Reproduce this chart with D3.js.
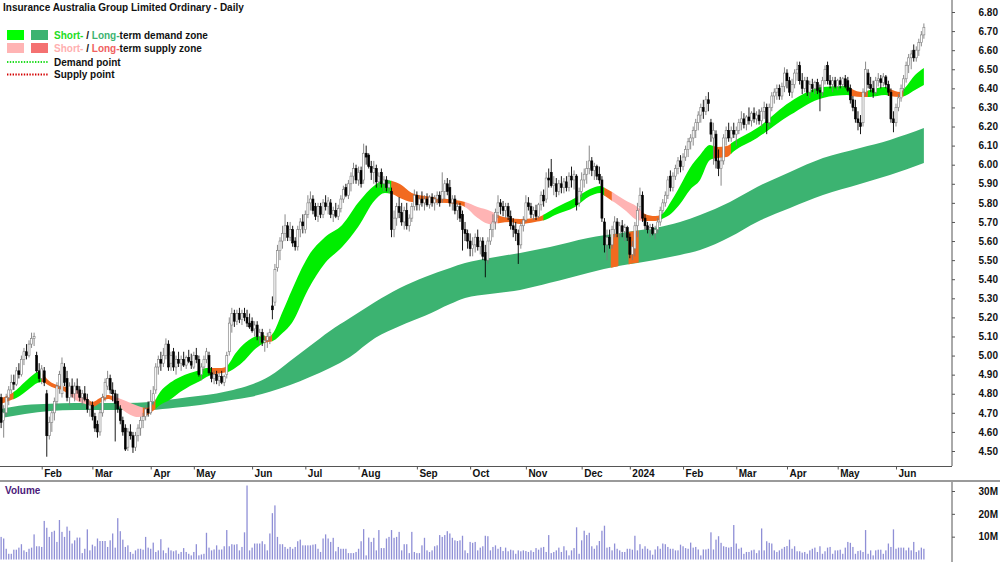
<!DOCTYPE html>
<html><head><meta charset="utf-8">
<script src="https://cdn.jsdelivr.net/npm/d3@7"></script>
<style>
html,body{margin:0;padding:0;background:#fff;}
svg{display:block;}
text{font-family:"Liberation Sans",Arial,sans-serif;font-weight:bold;font-size:10px;}
</style>
</head><body>
<svg id="chart" width="1000" height="562"></svg>
<script>
const title = "Insurance Australia Group Limited Ordinary - Daily";
const monthLabels = ["Feb","Mar","Apr","May","Jun","Jul","Aug","Sep","Oct","Nov","Dec","2024","Feb","Mar","Apr","May","Jun"];
const monthBarIndex = [16,36,59,76,99,120,141,164,185,207,229,248,269,290,310,330,353];
const priceTicks = [4.5,4.6,4.7,4.8,4.9,5.0,5.1,5.2,5.3,5.4,5.5,5.6,5.7,5.8,5.9,6.0,6.1,6.2,6.3,6.4,6.5,6.6,6.7,6.8];
const volumeTicks = [10,20,30];

// daily bars: [open, high, low, close]
const ohlc = [
[4.78,4.80,4.62,4.65],[4.66,4.74,4.57,4.70],[4.70,4.80,4.68,4.78],[4.78,4.84,4.74,4.82],[4.82,4.90,4.80,4.86],[4.86,4.90,4.82,4.85],[4.85,4.94,4.84,4.92],[4.92,4.96,4.88,4.90],[4.90,5.00,4.89,4.98],[4.98,5.04,4.95,5.02],
[5.02,5.06,4.98,5.00],[5.00,5.08,4.99,5.06],[5.06,5.12,5.04,5.09],[5.09,5.12,5.05,5.10],[5.00,5.02,4.91,4.92],[4.92,4.96,4.86,4.88],[4.88,4.95,4.85,4.93],[4.92,4.94,4.84,4.86],[4.80,4.82,4.47,4.58],[4.58,4.68,4.56,4.65],
[4.65,4.72,4.60,4.70],[4.70,4.78,4.66,4.76],[4.76,4.86,4.74,4.84],[4.84,4.92,4.80,4.90],[4.80,4.99,4.78,4.96],[4.94,4.96,4.84,4.86],[4.88,4.92,4.76,4.78],[4.78,4.86,4.74,4.84],[4.84,4.88,4.78,4.80],[4.80,4.86,4.76,4.84],
[4.84,4.88,4.80,4.82],[4.82,4.84,4.76,4.78],[4.78,4.82,4.74,4.80],[4.80,4.84,4.76,4.77],[4.77,4.80,4.70,4.72],[4.72,4.76,4.68,4.74],[4.74,4.76,4.66,4.68],[4.68,4.70,4.60,4.62],[4.64,4.66,4.57,4.60],[4.60,4.72,4.58,4.70],
[4.70,4.80,4.68,4.78],[4.78,4.88,4.76,4.86],[4.84,4.92,4.82,4.88],[4.88,4.90,4.80,4.82],[4.82,4.86,4.76,4.80],[4.80,4.82,4.55,4.75],[4.76,4.80,4.70,4.72],[4.72,4.74,4.64,4.66],[4.66,4.68,4.58,4.60],[4.62,4.64,4.50,4.51],
[4.52,4.62,4.50,4.60],[4.60,4.64,4.56,4.58],[4.58,4.60,4.49,4.52],[4.52,4.60,4.50,4.58],[4.58,4.64,4.55,4.62],[4.62,4.68,4.58,4.66],[4.66,4.70,4.62,4.68],[4.68,4.74,4.66,4.72],[4.72,4.76,4.68,4.70],[4.70,4.82,4.69,4.76],
[4.76,4.84,4.74,4.80],[4.82,4.96,4.80,4.94],[4.94,5.00,4.90,4.98],[4.98,5.02,4.92,4.96],[4.96,5.04,4.94,5.00],[5.00,5.09,4.98,5.06],[5.06,5.08,4.92,4.94],[4.96,5.02,4.92,5.00],[5.02,5.04,4.92,4.94],[4.94,5.00,4.90,4.98],
[4.98,5.02,4.94,4.96],[4.96,5.00,4.92,4.98],[4.98,5.02,4.94,4.95],[4.95,5.00,4.93,4.99],[4.99,5.03,4.96,4.97],[4.97,5.01,4.93,4.95],[4.94,5.02,4.93,5.00],[5.00,5.04,4.96,4.98],[4.98,5.00,4.89,4.90],[4.90,4.96,4.87,4.94],
[4.94,5.00,4.92,4.98],[4.98,5.04,4.96,5.02],[5.00,5.02,4.90,4.91],[4.91,4.94,4.86,4.88],[4.88,4.92,4.85,4.90],[4.90,4.92,4.85,4.87],[4.87,4.91,4.84,4.89],[4.89,4.92,4.85,4.86],[4.86,4.90,4.84,4.89],[4.90,5.02,4.88,5.00],
[5.02,5.20,5.00,5.17],[5.16,5.25,5.12,5.22],[5.22,5.24,5.15,5.18],[5.18,5.24,5.16,5.22],[5.22,5.25,5.17,5.19],[5.19,5.24,5.16,5.22],[5.22,5.25,5.18,5.20],[5.20,5.24,5.15,5.17],[5.17,5.22,5.14,5.15],[5.18,5.20,5.12,5.13],
[5.14,5.18,5.10,5.16],[5.16,5.18,5.08,5.10],[5.10,5.14,5.06,5.12],[5.12,5.14,5.05,5.07],[5.07,5.10,5.02,5.08],[5.08,5.12,5.04,5.10],[5.10,5.14,5.06,5.12],[5.26,5.31,5.19,5.24],[5.28,5.48,5.26,5.45],[5.46,5.58,5.44,5.55],
[5.55,5.62,5.50,5.60],[5.60,5.68,5.56,5.64],[5.64,5.74,5.60,5.68],[5.68,5.70,5.60,5.62],[5.62,5.70,5.60,5.66],[5.66,5.68,5.57,5.59],[5.60,5.62,5.55,5.57],[5.57,5.68,5.55,5.66],[5.66,5.72,5.62,5.70],[5.70,5.74,5.64,5.68],
[5.66,5.76,5.64,5.74],[5.74,5.84,5.72,5.80],[5.80,5.86,5.76,5.82],[5.82,5.84,5.74,5.76],[5.78,5.80,5.71,5.73],[5.73,5.80,5.70,5.78],[5.78,5.80,5.72,5.74],[5.74,5.82,5.72,5.80],[5.80,5.84,5.76,5.78],[5.78,5.83,5.74,5.81],
[5.80,5.82,5.72,5.74],[5.74,5.78,5.70,5.76],[5.76,5.80,5.72,5.73],[5.73,5.79,5.71,5.77],[5.77,5.84,5.75,5.82],[5.82,5.89,5.80,5.87],[5.88,5.90,5.83,5.84],[5.84,5.92,5.82,5.90],[5.90,5.96,5.86,5.94],[5.94,6.01,5.90,5.98],
[5.98,6.00,5.90,5.92],[5.92,5.99,5.89,5.96],[5.97,5.99,5.88,5.90],[5.92,6.11,5.90,6.06],[6.06,6.10,6.00,6.04],[6.05,6.06,5.98,5.99],[5.99,6.02,5.92,5.96],[5.96,6.02,5.90,5.98],[5.98,6.00,5.88,5.91],[5.91,5.96,5.88,5.94],
[5.96,5.98,5.88,5.90],[5.90,5.94,5.86,5.92],[5.92,5.94,5.86,5.88],[5.88,5.92,5.85,5.90],[5.86,5.88,5.62,5.66],[5.66,5.76,5.62,5.72],[5.72,5.80,5.68,5.78],[5.78,5.83,5.72,5.75],[5.75,5.80,5.68,5.70],[5.70,5.78,5.66,5.76],
[5.76,5.80,5.66,5.68],[5.68,5.74,5.65,5.72],[5.72,5.80,5.70,5.78],[5.78,5.87,5.76,5.84],[5.84,5.86,5.76,5.79],[5.79,5.84,5.76,5.82],[5.82,5.86,5.78,5.80],[5.80,5.84,5.76,5.82],[5.82,5.85,5.78,5.79],[5.79,5.84,5.77,5.83],
[5.83,5.85,5.78,5.80],[5.80,5.84,5.76,5.82],[5.82,5.86,5.79,5.84],[5.84,5.86,5.78,5.80],[5.82,5.96,5.80,5.86],[5.86,5.92,5.82,5.90],[5.90,5.93,5.84,5.86],[5.88,5.92,5.78,5.80],[5.80,5.84,5.76,5.82],[5.82,5.84,5.74,5.76],
[5.76,5.80,5.71,5.78],[5.78,5.80,5.70,5.72],[5.74,5.76,5.55,5.66],[5.66,5.70,5.60,5.64],[5.64,5.66,5.56,5.60],[5.60,5.64,5.52,5.56],[5.56,5.62,5.52,5.58],[5.58,5.64,5.54,5.62],[5.62,5.66,5.55,5.57],[5.57,5.62,5.53,5.60],
[5.60,5.62,5.50,5.52],[5.54,5.58,5.41,5.50],[5.50,5.62,5.48,5.60],[5.60,5.69,5.58,5.66],[5.66,5.74,5.62,5.70],[5.70,5.77,5.66,5.75],[5.75,5.84,5.72,5.80],[5.80,5.82,5.74,5.78],[5.78,5.81,5.73,5.76],[5.76,5.80,5.72,5.78],
[5.78,5.80,5.71,5.73],[5.73,5.76,5.66,5.68],[5.68,5.72,5.62,5.66],[5.66,5.70,5.60,5.64],[5.64,5.66,5.48,5.58],[5.58,5.70,5.56,5.68],[5.68,5.73,5.65,5.71],[5.71,5.84,5.70,5.80],[5.80,5.83,5.76,5.78],[5.78,5.80,5.72,5.74],
[5.74,5.78,5.71,5.76],[5.76,5.79,5.71,5.73],[5.73,5.80,5.72,5.79],[5.79,5.86,5.76,5.84],[5.84,5.87,5.78,5.81],[5.82,5.96,5.80,5.93],[5.93,5.98,5.88,5.92],[5.96,6.03,5.88,5.89],[5.89,5.94,5.84,5.90],[5.90,5.93,5.83,5.86],
[5.86,5.92,5.84,5.90],[5.90,5.94,5.85,5.88],[5.88,5.93,5.85,5.91],[5.91,5.94,5.86,5.88],[5.88,5.96,5.86,5.94],[5.94,5.99,5.88,5.92],[5.92,5.97,5.87,5.95],[5.94,5.95,5.76,5.79],[5.80,5.88,5.78,5.86],[5.86,5.96,5.83,5.92],
[5.92,5.98,5.88,5.95],[5.95,6.02,5.90,5.98],[5.98,6.10,5.95,6.02],[6.02,6.04,5.94,5.97],[5.97,6.01,5.92,5.99],[5.99,6.00,5.92,5.94],[5.95,5.99,5.90,5.92],[5.92,5.94,5.70,5.72],[5.70,5.72,5.54,5.58],[5.58,5.66,5.50,5.62],
[5.62,5.66,5.56,5.58],[5.58,5.68,5.56,5.66],[5.66,5.73,5.62,5.70],[5.70,5.72,5.62,5.64],[5.64,5.70,5.61,5.68],[5.68,5.71,5.62,5.65],[5.65,5.69,5.60,5.67],[5.67,5.68,5.60,5.62],[5.62,5.64,5.51,5.53],[5.53,5.60,5.50,5.57],
[5.56,5.70,5.52,5.68],[5.68,5.80,5.62,5.76],[5.78,5.88,5.76,5.84],[5.84,5.86,5.70,5.72],[5.72,5.74,5.66,5.68],[5.68,5.70,5.64,5.66],[5.66,5.69,5.62,5.67],[5.67,5.69,5.63,5.64],[5.64,5.68,5.61,5.66],[5.66,5.72,5.64,5.70],
[5.70,5.78,5.68,5.76],[5.76,5.82,5.74,5.80],[5.80,5.86,5.78,5.84],[5.84,5.94,5.82,5.92],[5.94,5.97,5.86,5.88],[5.88,5.96,5.86,5.94],[5.94,6.00,5.92,5.98],[5.98,6.04,5.95,6.02],[6.02,6.05,5.96,5.99],[5.99,6.06,5.97,6.04],
[6.04,6.10,6.02,6.08],[6.08,6.14,6.04,6.12],[6.12,6.16,6.08,6.14],[6.14,6.20,6.10,6.18],[6.18,6.24,6.14,6.22],[6.22,6.28,6.18,6.26],[6.26,6.32,6.22,6.30],[6.30,6.34,6.24,6.28],[6.28,6.36,6.26,6.34],[6.34,6.38,6.28,6.32],
[6.22,6.24,6.12,6.16],[6.14,6.22,6.00,6.18],[6.16,6.18,5.98,6.02],[6.02,6.08,5.94,5.98],[5.98,6.04,5.89,6.02],[6.02,6.16,6.00,6.14],[6.14,6.20,6.10,6.18],[6.18,6.22,6.12,6.14],[6.14,6.20,6.12,6.18],[6.18,6.22,6.14,6.16],
[6.16,6.20,6.10,6.18],[6.18,6.24,6.16,6.22],[6.22,6.28,6.18,6.24],[6.24,6.27,6.19,6.21],[6.21,6.26,6.18,6.25],[6.25,6.30,6.21,6.23],[6.23,6.28,6.20,6.27],[6.27,6.30,6.22,6.24],[6.24,6.28,6.21,6.26],[6.26,6.29,6.21,6.23],
[6.23,6.30,6.20,6.28],[6.28,6.33,6.24,6.30],[6.30,6.32,6.16,6.22],[6.22,6.32,6.20,6.30],[6.30,6.38,6.28,6.36],[6.36,6.40,6.32,6.38],[6.38,6.42,6.34,6.40],[6.40,6.42,6.34,6.36],[6.36,6.43,6.34,6.41],[6.41,6.51,6.38,6.48],
[6.48,6.50,6.40,6.44],[6.44,6.46,6.36,6.38],[6.38,6.45,6.35,6.42],[6.42,6.50,6.40,6.48],[6.48,6.54,6.44,6.50],[6.52,6.54,6.42,6.44],[6.44,6.48,6.37,6.40],[6.40,6.46,6.38,6.44],[6.44,6.46,6.36,6.38],[6.38,6.44,6.35,6.42],
[6.42,6.45,6.38,6.40],[6.40,6.44,6.37,6.43],[6.43,6.45,6.37,6.39],[6.39,6.42,6.28,6.38],[6.38,6.46,6.36,6.44],[6.44,6.52,6.42,6.50],[6.52,6.54,6.42,6.44],[6.44,6.47,6.40,6.42],[6.42,6.46,6.38,6.44],[6.44,6.46,6.40,6.41],
[6.41,6.45,6.39,6.44],[6.44,6.46,6.40,6.42],[6.42,6.46,6.40,6.45],[6.45,6.47,6.40,6.41],[6.44,6.46,6.38,6.39],[6.40,6.42,6.32,6.34],[6.34,6.36,6.28,6.30],[6.30,6.34,6.22,6.24],[6.24,6.28,6.18,6.22],[6.22,6.26,6.16,6.20],
[6.22,6.40,6.20,6.38],[6.38,6.54,6.36,6.50],[6.48,6.50,6.40,6.42],[6.42,6.46,6.38,6.40],[6.40,6.44,6.35,6.38],[6.38,6.46,6.37,6.44],[6.44,6.48,6.41,6.45],[6.45,6.47,6.40,6.43],[6.43,6.48,6.41,6.46],[6.46,6.47,6.40,6.42],
[6.42,6.44,6.36,6.38],[6.38,6.40,6.22,6.24],[6.24,6.28,6.17,6.22],[6.22,6.32,6.20,6.30],[6.30,6.37,6.28,6.35],[6.35,6.42,6.33,6.40],[6.40,6.47,6.38,6.45],[6.45,6.54,6.43,6.52],[6.52,6.58,6.48,6.56],[6.56,6.60,6.50,6.58],
[6.60,6.63,6.54,6.56],[6.56,6.62,6.54,6.60],[6.60,6.66,6.57,6.64],[6.64,6.70,6.62,6.68],[6.68,6.74,6.66,6.72]
];

// daily volume, millions
const volume = [
9.9,9.2,4.7,2.5,2.5,4.3,4.3,5.2,6.7,4.0,
3.3,4.7,5.2,11.0,5.8,5.8,5.5,16.9,13.9,9.9,
12.1,12.6,7.7,17.3,12.1,9.9,14.4,12.6,7.0,8.4,
9.6,9.6,2.8,4.7,13.2,4.0,6.5,5.8,9.2,8.1,
8.1,8.1,5.5,8.4,11.4,5.2,18.1,12.4,8.7,5.5,
6.2,3.3,2.5,4.0,4.7,4.7,4.3,9.9,5.2,4.7,
7.4,3.3,4.0,8.9,4.0,2.8,5.2,4.0,3.6,4.0,
2.5,3.3,5.0,3.3,2.5,1.8,3.3,6.7,1.8,2.2,
2.5,11.7,5.2,4.0,4.4,6.2,4.3,4.4,5.8,12.9,
5.8,6.7,6.5,6.7,4.0,5.5,11.9,32.4,4.0,5.2,
7.0,7.0,7.0,8.0,6.7,4.0,11.4,20.3,23.7,9.9,
6.7,6.7,5.5,4.7,5.5,4.7,5.5,8.0,8.7,6.2,
6.2,6.2,6.2,6.5,6.7,4.7,3.3,9.2,11.0,9.2,
7.7,9.5,3.6,5.5,4.7,4.7,4.7,2.8,2.8,2.8,
3.3,4.7,8.0,13.3,1.8,9.6,7.7,9.5,4.0,12.9,
5.0,5.0,9.2,9.9,12.9,9.5,9.9,12.1,4.0,6.7,
6.7,2.8,12.1,3.3,2.8,2.8,6.2,9.5,4.0,3.3,
4.0,5.8,6.2,10.7,9.9,10.7,12.4,11.4,9.5,8.4,
8.1,8.4,10.4,4.0,2.8,7.7,7.3,7.7,4.0,5.2,
5.8,10.4,10.2,4.0,5.5,6.2,
4.7,5.5,3.7,5.2,3.6,4.3,4.0,2.5,4.0,3.6,
4.0,3.7,3.3,4.0,3.3,5.0,4.3,5.2,5.5,3.3,
10.7,2.8,3.3,4.0,5.2,3.3,5.8,4.0,1.8,4.0,
5.0,14.1,2.5,8.4,12.6,10.7,11.7,5.8,4.7,6.2,
8.1,12.6,14.8,5.2,5.5,4.0,7.0,4.7,4.0,3.3,
3.3,4.7,4.7,4.3,10.4,4.0,6.7,4.7,5.8,4.7,
4.0,2.1,4.4,5.8,4.7,7.0,6.7,5.5,4.7,4.7,
4.0,4.0,6.5,5.8,5.0,4.7,7.4,5.2,5.5,4.4,
1.8,4.4,4.4,4.7,11.9,4.4,8.7,10.2,7.3,5.8,
5.5,5.2,5.5,15.1,7.0,4.7,5.2,2.5,3.3,3.3,
4.0,4.3,2.8,4.0,13.6,4.0,8.0,7.3,7.0,4.0,
3.3,4.0,4.7,5.5,5.9,8.7,4.7,5.8,3.6,3.6,
3.0,3.3,2.5,4.0,4.7,5.2,3.3,5.8,2.5,3.6,
5.2,5.5,2.5,4.0,4.0,4.3,2.5,5.2,7.7,7.3,
5.5,2.5,3.7,4.0,3.3,12.9,2.5,4.0,1.8,4.0,
4.3,4.3,2.5,4.0,7.0,5.5,13.2,4.7,5.2,5.2,
5.2,4.0,5.2,4.0,7.7,3.3,4.0,5.2,4.7
];

// short-term zone edges (bar position, upper price, lower price)
const shortBandIdx = [0,3,6,9,12.5,14.5,16.5,18.5,21,24,27,30,33,36,39,42,45,48,51,54,57,59.5,62.7,66.6,70.6,74.5,78.5,81,84.4,87,89.5,92.3,96.2,99,103,105.3,107.3,111,114.7,121,127.8,134.5,140.8,147.5,151.4,154.2,157.3,162,167.2,173,179,183,188,193,196.8,200.7,204.7,210.6,214.5,218.5,226.4,232.3,236.3,238.2,242.2,246,251,254,258,260.7,264.6,267.8,271.7,275.7,279.6,282.4,286.3,288.7,298.2,311.2,324.2,333.7,335.6,339.6,342.7,348.7,350.6,354.6,356.5,360.5,364];
const shortBandTop = [4.778,4.794,4.820,4.857,4.898,4.914,4.904,4.872,4.851,4.841,4.830,4.820,4.789,4.757,4.778,4.794,4.783,4.768,4.752,4.736,4.726,4.741,4.809,4.857,4.888,4.909,4.925,4.935,4.935,4.935,4.951,5.009,5.066,5.092,5.108,5.097,5.118,5.229,5.344,5.517,5.621,5.684,5.800,5.894,5.920,5.915,5.899,5.852,5.836,5.826,5.815,5.805,5.779,5.758,5.731,5.721,5.716,5.721,5.742,5.773,5.826,5.873,5.889,5.878,5.847,5.815,5.779,5.742,5.731,5.742,5.815,5.889,5.983,6.051,6.103,6.093,6.098,6.119,6.192,6.329,6.407,6.412,6.397,6.381,6.391,6.407,6.397,6.381,6.402,6.470,6.507];
const shortBandBot = [4.747,4.762,4.778,4.804,4.841,4.857,4.862,4.846,4.830,4.820,4.794,4.762,4.747,4.731,4.752,4.773,4.757,4.715,4.689,4.678,4.684,4.705,4.741,4.768,4.809,4.841,4.867,4.888,4.904,4.909,4.914,4.935,4.977,5.019,5.061,5.071,5.077,5.118,5.171,5.344,5.485,5.569,5.674,5.815,5.852,5.847,5.826,5.805,5.800,5.800,5.794,5.779,5.721,5.689,5.695,5.700,5.689,5.700,5.710,5.737,5.779,5.836,5.852,5.836,5.800,5.763,5.710,5.705,5.705,5.716,5.747,5.794,5.868,5.920,6.025,6.035,6.040,6.067,6.140,6.260,6.350,6.365,6.360,6.355,6.355,6.365,6.360,6.355,6.360,6.391,6.418];
// colour state of the short-term zone over bar ranges: g demand, p supply, o turning
const shortBandRuns = [[0,5,"o"],[5,16,"g"],[16,26,"o"],[26,35,"p"],[35,44,"o"],[44,56,"p"],[56,61,"o"],[61,83,"g"],[83,89,"o"],[89,104,"g"],[104,107,"o"],[107,154,"g"],[154,183,"o"],[183,196,"p"],[196,214,"o"],[214,238,"g"],[238,241,"o"],[241,253,"p"],[253,260,"o"],[260,281,"g"],[281,288,"o"],[288,335,"g"],[335,342,"o"],[342,350,"g"],[350,356,"o"],[356,364,"g"]];

// long-term zone edges
const longBandIdx = [0,9.4,19.3,29.1,39,48.9,58.7,68.6,78.5,91.5,98.2,106,114,121.8,129.7,137.6,147.5,157.3,167.2,177.1,183,192.8,204.7,216.5,231.5,244.1,257.9,267.8,275.7,287.5,298.2,311.2,324.2,338.8,350.6,364];
const longBandTop = [4.720,4.741,4.747,4.752,4.752,4.752,4.757,4.773,4.789,4.820,4.846,4.893,4.972,5.050,5.129,5.197,5.281,5.354,5.412,5.459,5.485,5.511,5.538,5.569,5.616,5.642,5.669,5.700,5.737,5.805,5.883,5.962,6.035,6.088,6.130,6.192];
const longBandBot = [4.673,4.694,4.710,4.715,4.715,4.715,4.715,4.726,4.741,4.768,4.783,4.810,4.846,4.888,4.935,4.993,5.092,5.155,5.208,5.270,5.302,5.323,5.344,5.381,5.433,5.470,5.501,5.527,5.553,5.621,5.700,5.773,5.841,5.899,5.946,6.009];
const longSupplyRuns = [[240.5,243.5],[247.5,251.5]];

const colors = {g:"#00ee00", p:"#ffb4b4", o:"#f26a1f", longDemand:"#3cb371", longSupply:"#f26a1f"};

const svg = d3.select("#chart");
const W = 1000, H = 562;
const axisX = 952;

const x = d3.scaleLinear().domain([0, 364]).range([1.14, 1.14 + 364 * 2.535]);
const y = d3.scaleLinear().domain([4.5, 6.8]).range([451, 12]);
const yv = d3.scaleLinear().domain([0, 30]).range([559.5, 491]);

const defs = svg.append("defs");
defs.append("clipPath").attr("id","plotClip").append("rect").attr("x",0).attr("y",0).attr("width",axisX).attr("height",466);

const plot = svg.append("g").attr("clip-path","url(#plotClip)");

// long-term zone
const longData = longBandIdx.map((d,i)=>({i:d, t:longBandTop[i], b:longBandBot[i]}));
const longArea = d3.area().x(d=>x(d.i)).y0(d=>y(d.b)).y1(d=>y(d.t)).curve(d3.curveMonotoneX);
plot.append("path").datum(longData).attr("d", longArea).attr("fill", colors.longDemand);
longSupplyRuns.forEach((r,k)=>{
  const id = "ls"+k;
  defs.append("clipPath").attr("id",id).append("rect")
    .attr("x", x(r[0])).attr("width", x(r[1]) - x(r[0])).attr("y",0).attr("height",H);
  plot.append("path").datum(longData).attr("d", longArea).attr("fill", colors.longSupply).attr("clip-path","url(#"+id+")");
});

// short-term zone
const shortData = shortBandIdx.map((d,i)=>({i:d, t:shortBandTop[i], b:shortBandBot[i]}));
const shortArea = d3.area().x(d=>x(d.i)).y0(d=>y(d.b)).y1(d=>y(d.t)).curve(d3.curveMonotoneX);
shortBandRuns.forEach((r,k)=>{
  const id = "sr"+k;
  const x0 = x(r[0]) - (k===0?2:0.3), x1 = x(r[1]) + (k===shortBandRuns.length-1?2:0.3);
  defs.append("clipPath").attr("id",id).append("rect")
    .attr("x", x0).attr("width", x1 - x0).attr("y",0).attr("height",H);
  plot.append("path").datum(shortData).attr("d", shortArea).attr("fill", colors[r[2]]).attr("clip-path","url(#"+id+")");
});

// candles
const candles = plot.append("g");
ohlc.forEach((d,i)=>{
  const [o,h,l,c] = d;
  const up = c >= o;
  const cx = x(i);
  const col = up ? "#7c7c7c" : "#000";
  candles.append("line").attr("x1",cx).attr("x2",cx).attr("y1",y(h)).attr("y2",y(l))
    .attr("stroke",col).attr("stroke-width",0.9);
  const top = y(Math.max(o,c)), bot = y(Math.min(o,c));
  candles.append("rect").attr("x",cx-1).attr("width",2)
    .attr("y",top).attr("height",Math.max(0.8, bot-top))
    .attr("fill", up ? "#fff" : "#000").attr("stroke",col).attr("stroke-width",0.6);
});

// volume bars
const vol = svg.append("g");
volume.forEach((v,i)=>{
  vol.append("rect").attr("x", x(i)-0.65).attr("width",1.3)
    .attr("y", yv(v)).attr("height", yv(0)-yv(v)).attr("fill","#8f8fd6");
});

// axes lines
svg.append("line").attr("x1",axisX).attr("x2",axisX).attr("y1",0).attr("y2",466).attr("stroke","#555").attr("stroke-width",1);
svg.append("line").attr("x1",axisX).attr("x2",axisX).attr("y1",481).attr("y2",H).attr("stroke","#555").attr("stroke-width",1);
svg.append("line").attr("x1",0).attr("x2",axisX).attr("y1",466.5).attr("y2",466.5).attr("stroke","#555").attr("stroke-width",1);
svg.append("line").attr("x1",0).attr("x2",W).attr("y1",481).attr("y2",481).attr("stroke","#9a9a9a").attr("stroke-width",2);

// price axis
const pa = svg.append("g").attr("transform","translate("+axisX+",0)")
  .call(d3.axisRight(y).tickValues(priceTicks).tickFormat(d3.format(".2f")).tickSize(3));
pa.select(".domain").remove();
pa.selectAll(".tick line").attr("stroke","#555");
pa.selectAll(".tick text").attr("x",46).attr("text-anchor","end")
  .style("font-family",'"Liberation Sans",Arial,sans-serif').style("font-weight","bold").style("font-size","10px").attr("fill","#111");

// volume axis
const va = svg.append("g").attr("transform","translate("+axisX+",0)")
  .call(d3.axisRight(yv).tickValues(volumeTicks).tickFormat(d=>d+"M").tickSize(3));
va.select(".domain").remove();
va.selectAll(".tick line").attr("stroke","#555");
va.selectAll(".tick text").attr("x",46).attr("text-anchor","end")
  .style("font-family",'"Liberation Sans",Arial,sans-serif').style("font-weight","bold").style("font-size","10px").attr("fill","#111");

// month axis
const ma = svg.append("g").attr("transform","translate(0,466.5)")
  .call(d3.axisBottom(x).tickValues(monthBarIndex).tickFormat((d,i)=>monthLabels[i]).tickSize(3));
ma.select(".domain").remove();
ma.selectAll(".tick line").attr("stroke","#555");
ma.selectAll(".tick text").attr("x",2).attr("y",3).attr("dy","0.71em").attr("text-anchor","start")
  .style("font-family",'"Liberation Sans",Arial,sans-serif').style("font-weight","bold").style("font-size","10px").attr("fill","#111");

// title
svg.append("text").attr("x",3).attr("y",10.5).attr("fill","#111").text(title);

// volume label
svg.append("text").attr("x",5).attr("y",494).attr("fill","#4b1a7a").text("Volume");

// legend
const lg = svg.append("g");
lg.append("rect").attr("x",7).attr("y",30).attr("width",17).attr("height",10).attr("fill","#00ff00");
lg.append("rect").attr("x",31).attr("y",30).attr("width",17).attr("height",10).attr("fill","#3cb371");
lg.append("rect").attr("x",7).attr("y",43).attr("width",17).attr("height",10).attr("fill","#ffb4b4");
lg.append("rect").attr("x",31).attr("y",43).attr("width",17).attr("height",10).attr("fill","#f47171");
lg.append("line").attr("x1",7).attr("x2",48).attr("y1",62).attr("y2",62).attr("stroke","#22dd22").attr("stroke-width",2).attr("stroke-dasharray","1.4,1.4");
lg.append("line").attr("x1",7).attr("x2",48).attr("y1",74.5).attr("y2",74.5).attr("stroke","#d40000").attr("stroke-width",2).attr("stroke-dasharray","1.4,1.4");

const t1 = lg.append("text").attr("x",54).attr("y",38.5).attr("fill","#111");
t1.append("tspan").attr("fill","#22dd22").text("Short-");
t1.append("tspan").text(" / ");
t1.append("tspan").attr("fill","#3cb371").text("Long-");
t1.append("tspan").text("term demand zone");
const t2 = lg.append("text").attr("x",54).attr("y",51.5).attr("fill","#111");
t2.append("tspan").attr("fill","#ffb0b0").text("Short-");
t2.append("tspan").text(" / ");
t2.append("tspan").attr("fill","#f06060").text("Long-");
t2.append("tspan").text("term supply zone");
lg.append("text").attr("x",54).attr("y",65.5).attr("fill","#111").text("Demand point");
lg.append("text").attr("x",54).attr("y",78).attr("fill","#111").text("Supply point");
</script>
</body></html>
